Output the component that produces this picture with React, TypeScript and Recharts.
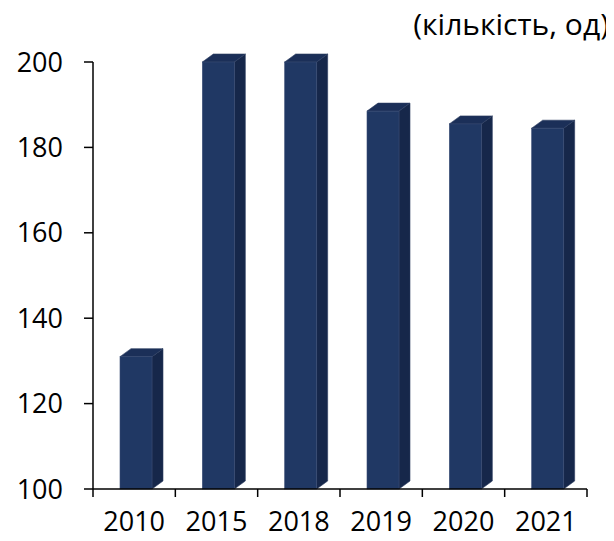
import React from 'react';
import { BarChart, Bar, XAxis, YAxis } from 'recharts';

const years = ['2010', '2015', '2018', '2019', '2020', '2021'];
const counts = [131, 200, 200, 188.5, 185.5, 184.5];
const yTicks = [100, 120, 140, 160, 180, 200];
const edgeTicks = [0, 1, 2, 3, 4, 5, 6];
const unitLabel = '(кількість, од)';

const data = years.map((year, i) => ({ year, count: counts[i], edge: i + 0.5 }));

const FONT = '"Open Sans", "Noto Sans", sans-serif';

// front face + right side + top, like the old office 3D column
const Box3D = (props: any) => {
  const { x, y, width, height } = props;
  if (height == null || height <= 0) return null;
  const d = 11;
  const dy = 8;
  const x0 = x + 2;
  const x1 = x0 + width;
  const yb = y + height;
  return (
    <g>
      <polygon
        points={`${x1},${y} ${x1 + d},${y - dy} ${x1 + d},${yb - dy} ${x1},${yb}`}
        fill="#16274a"
        stroke="#2b3c60"
        strokeWidth={0.6}
      />
      <polygon
        points={`${x0},${y} ${x0 + d},${y - dy} ${x1 + d},${y - dy} ${x1},${y}`}
        fill="#1b2f58"
        stroke="#2b3c60"
        strokeWidth={0.6}
      />
      <rect x={x0} y={y} width={width} height={height} fill="#203864" stroke="#3a4c74" strokeWidth={0.6} />
    </g>
  );
};

const NoLabel = () => <g />;

export default function App() {
  return (
    <div style={{ position: 'relative', width: 598, height: 533 }}>
      <div
        style={{
          position: 'absolute',
          right: -3,
          top: -5,
          fontFamily: FONT,
          fontSize: 30,
          color: '#000',
          whiteSpace: 'nowrap',
        }}
      >
        {unitLabel}
      </div>
      <BarChart width={598} height={533} data={data} margin={{ top: 54, right: 19, bottom: 0, left: 0 }}>
        <XAxis
          xAxisId="a"
          type="number"
          dataKey="edge"
          domain={[0, 6]}
          ticks={edgeTicks}
          tick={<NoLabel />}
          tickSize={8}
          height={1}
          axisLine={{ stroke: '#000', strokeWidth: 1.5 }}
          tickLine={{ stroke: '#000', strokeWidth: 1.5 }}
        />
        <XAxis
          xAxisId="b"
          dataKey="year"
          height={51}
          axisLine={false}
          tickLine={false}
          tickSize={0}
          tickMargin={22}
          tick={{ fill: '#000', fontSize: 27, fontFamily: FONT }}
        />
        <YAxis
          domain={[100, 200]}
          ticks={yTicks}
          width={85}
          tickSize={9}
          tickMargin={21}
          axisLine={{ stroke: '#000', strokeWidth: 1.5 }}
          tickLine={{ stroke: '#000', strokeWidth: 1.5 }}
          tick={{ fill: '#000', fontSize: 27, fontFamily: FONT }}
        />
        <Bar xAxisId="b" dataKey="count" barSize={32} shape={<Box3D />} isAnimationActive={false} />
      </BarChart>
    </div>
  );
}
